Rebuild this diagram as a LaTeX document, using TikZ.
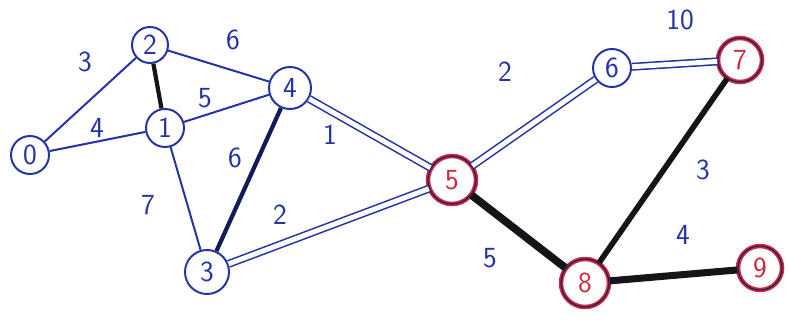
\documentclass[tikz,border=0pt]{standalone}
\usepackage{tikz}
\usetikzlibrary{positioning}
\definecolor{penblue}{RGB}{35, 50, 165}
\definecolor{penred}{RGB}{205, 40, 60}
\definecolor{penblack}{RGB}{20, 20, 25}

\tikzset{
  vert/.style={circle, draw=penblue, line width=1.4pt, text=penblue,
    inner sep=0pt, minimum size=1cm, font=\sffamily\huge},
  redvert/.style={vert, draw=penred, line width=1.2pt, double=penblue!60!black,
    double distance=0.8pt, text=penred},
  plain/.style={draw=penblue, line width=1.4pt},
  picked/.style={draw=penblue, line width=1.1pt, double=white, double distance=3.5pt},
  heavy/.style={draw=penblack, line width=5pt},
  wlabel/.style={text=penblue, font=\sffamily\huge},
}

\begin{document}
\begin{tikzpicture}
\useasboundingbox (0,0) rectangle (19.7,8.05);

% === Knoten ===
\node[vert, minimum size=0.95cm] (v0) at (0.75,4.175) {0};
\node[vert, minimum size=0.95cm] (v1) at (4.125,4.85) {1};
\node[vert, minimum size=0.9cm] (v2) at (3.75,6.925) {2};
\node[vert, minimum size=1.1cm] (v3) at (5.175,1.25) {3};
\node[vert, minimum size=1.05cm] (v4) at (7.25,5.85) {4};
\node[redvert, minimum size=1.2cm] (v5) at (11.3,3.55) {5};
\node[vert, minimum size=0.95cm] (v6) at (15.3,6.35) {6};
\node[redvert, minimum size=1.1cm] (v7) at (18.5,6.55) {7};
\node[redvert, minimum size=1.2cm] (v8) at (14.625,0.975) {8};
\node[redvert, minimum size=1.1cm] (v9) at (19.0,1.35) {9};

% === Kanten ===
\draw[plain] (v0) -- (v2);
\draw[plain] (v0) -- (v1);
\draw[heavy, line width=3pt] (v2) -- (v1);
\draw[plain] (v2) -- (v4);
\draw[plain] (v1) -- (v4);
\draw[plain] (v1) -- (v3);
\draw[plain, line width=3pt, draw=penblue!55!black] (v4) -- (v3);

% ausgewaehlte Kanten (doppelt)
\draw[picked] (v4) -- (v5);
\draw[picked] (v3) -- (v5);
\draw[picked] (v5) -- (v6);
\draw[picked] (v6) -- (v7);

% schwarze Kanten
\draw[heavy, line width=5.5pt] (v5) -- (v8);
\draw[heavy, line width=4pt] (v7) -- (v8);
\draw[heavy] (v8) -- (v9);

% === Gewichte ===
\node[wlabel] (w02) at (2.125,6.5) {3};
\node[wlabel] (w01) at (2.425,4.85) {4};
\node[wlabel] (w24) at (5.825,7.05) {6};
\node[wlabel] (w14) at (5.125,5.6) {5};
\node[wlabel] (w13) at (3.7,2.925) {7};
\node[wlabel] (w43) at (5.875,4.1) {6};
\node[wlabel] (w45) at (8.25,4.675) {1};
\node[wlabel] (w35) at (7.0,2.675) {2};
\node[wlabel] (w56) at (12.625,6.25) {2};
\node[wlabel] (w67) at (17.0,7.55) {10};
\node[wlabel] (w78) at (17.575,3.8) {3};
\node[wlabel] (w58) at (12.25,1.6) {5};
\node[wlabel] (w89) at (17.075,2.175) {4};

\end{tikzpicture}
\end{document}
